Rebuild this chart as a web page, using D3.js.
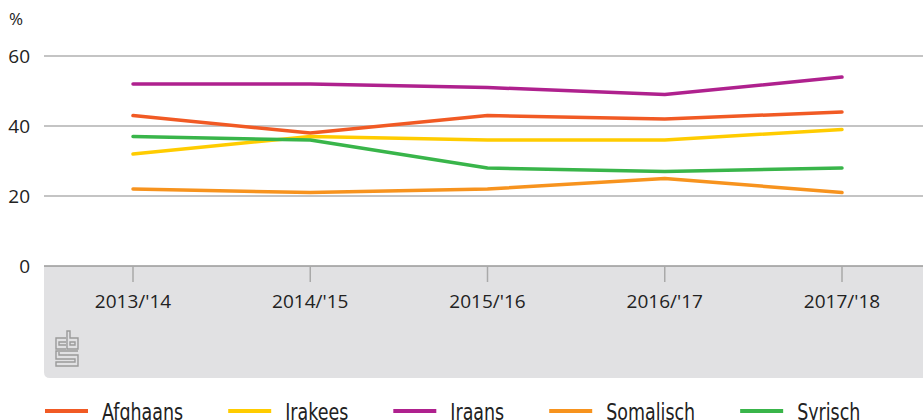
<!DOCTYPE html>
<html>
<head>
<meta charset="utf-8">
<style>
  body { margin: 0; background: #fff; }
  svg { display: block; font-family: "Open Sans", "DejaVu Sans", sans-serif; }
  .axis-label { font-size: 19px; fill: #222; }
  .legend text { font-family: "DejaVu Sans", sans-serif; font-size: 23px; fill: #222; }
</style>
</head>
<body>
<div id="chart"></div>
<script src="https://cdnjs.cloudflare.com/ajax/libs/d3/7.8.5/d3.min.js"></script>
<script>
var years = ["2013/'14", "2014/'15", "2015/'16", "2016/'17", "2017/'18"];
var yTicks = [0, 20, 40, 60];

var afghaans  = [43, 38, 43, 42, 44];
var irakees   = [32, 37, 36, 36, 39];
var iraans    = [52, 52, 51, 49, 54];
var somalisch = [22, 21, 22, 25, 21];
var syrisch   = [37, 36, 28, 27, 28];

var seriesNames = ["Afghaans", "Irakees", "Iraans", "Somalisch", "Syrisch"];
var seriesColors = ["#f15a24", "#ffcc00", "#af218e", "#f7931e", "#39b54a"];
var seriesValues = [afghaans, irakees, iraans, somalisch, syrisch];

var width = 923, height = 420;
var plotLeft = 44, plotRight = 923, plotTop = 56, plotBottom = 266;

var svg = d3.select("#chart").append("svg")
  .attr("width", width).attr("height", height);

var x = d3.scalePoint().domain(years).range([133, 842]);
var y = d3.scaleLinear().domain([0, 60]).range([plotBottom, plotTop]);

// grey x-axis area with rounded bottom-left corner
svg.append("path")
  .attr("d", "M" + plotLeft + "," + plotBottom + "H" + plotRight + "V378H" + (plotLeft + 6) +
    "Q" + plotLeft + ",378 " + plotLeft + ",372Z")
  .attr("fill", "#e1e1e3");

// gridlines
svg.append("g")
  .selectAll("line").data(yTicks).enter().append("line")
  .attr("x1", plotLeft).attr("x2", plotRight)
  .attr("y1", function(d) { return y(d); })
  .attr("y2", function(d) { return y(d); })
  .attr("stroke-width", 1.5)
  .attr("stroke", function(d) { return d === 0 ? "#999" : "#b0b0b0"; });

// y labels
svg.selectAll(".ylab").data(yTicks).enter().append("text")
  .attr("class", "axis-label ylab")
  .attr("x", 30).attr("y", function(d) { return y(d) + 7; })
  .attr("text-anchor", "end")
  .text(function(d) { return d; });

svg.append("text").attr("class", "axis-label")
  .attr("x", 9).attr("y", 25).style("font-size", "17px").text("%");

// x ticks + labels
svg.selectAll(".xtick").data(years).enter().append("line")
  .attr("x1", function(d) { return x(d); }).attr("x2", function(d) { return x(d); })
  .attr("y1", plotBottom).attr("y2", plotBottom + 16)
  .attr("stroke", "#a9a9a9").attr("stroke-width", 1.5);

svg.selectAll(".xlab").data(years).enter().append("text")
  .attr("class", "axis-label xlab")
  .attr("x", function(d) { return x(d); }).attr("y", 308)
  .attr("text-anchor", "middle")
  .text(function(d) { return d; });

// cbs logo
var logo = svg.append("g").attr("fill", "none").attr("stroke", "#9a9a9a").attr("stroke-width", 1.4);
logo.append("path").attr("d", "M66,338H56V349H66M66,342H59V345H66");
logo.append("path").attr("d", "M67,331V349H78V338H70V331ZM70,342H75V345H70Z");
logo.append("path").attr("d", "M78,351H56V359H75V362H56V366H78V355H59V352");

// lines
var line = d3.line()
  .x(function(d, i) { return x(years[i]); })
  .y(function(d) { return y(d); });

svg.selectAll(".series").data(seriesValues).enter().append("path")
  .attr("class", "series")
  .attr("d", line)
  .attr("fill", "none")
  .attr("stroke", function(d, i) { return seriesColors[i]; })
  .attr("stroke-width", 3.5)
  .attr("stroke-linecap", "round")
  .attr("stroke-linejoin", "round");

// legend (text squeezed horizontally to look like the condensed font)
var squeeze = 0.76;
var legend = svg.append("g").attr("class", "legend");
var lx = 45;
seriesNames.forEach(function(name, i) {
  legend.append("line")
    .attr("x1", lx).attr("x2", lx + 43)
    .attr("y1", 411).attr("y2", 411)
    .attr("stroke", seriesColors[i]).attr("stroke-width", 4);
  var t = legend.append("text")
    .attr("transform", "translate(" + (lx + 57) + ",420) scale(" + squeeze + ",1)")
    .text(name);
  lx = lx + 57 + t.node().getComputedTextLength() * squeeze + 45;
});
</script>
</body>
</html>
